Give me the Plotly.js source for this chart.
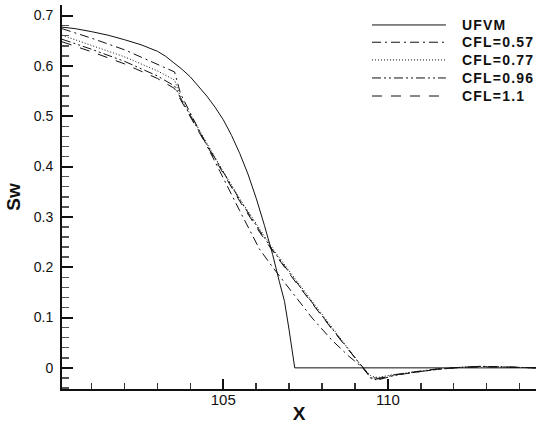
<!DOCTYPE html>
<html>
<head>
<meta charset="utf-8">
<script src="https://cdn.plot.ly/plotly-3.0.1.min.js"></script>
<style>
html,body{margin:0;padding:0;background:#fff;}
#chart{width:536px;height:430px;}
.annotation-text{letter-spacing:1.2px;}
</style>
</head>
<body>
<div id="chart"></div>
<script>
// UFVM reference solution
const xUfvm = [100.1, 100.5, 101, 101.5, 102, 102.5, 103, 103.25, 103.5, 103.75, 104, 104.25, 104.5, 104.75, 105, 105.25, 105.5, 105.75, 106.0, 106.25, 106.5, 106.7, 106.86, 107.0, 107.17, 108, 109, 110, 111, 112, 113, 114, 114.5];
const yUfvm = [0.677, 0.674, 0.668, 0.661, 0.652, 0.642, 0.629, 0.619, 0.606, 0.593, 0.578, 0.560, 0.540, 0.518, 0.493, 0.462, 0.426, 0.385, 0.337, 0.283, 0.225, 0.172, 0.132, 0.075, 0.0, 0, 0, 0, 0, 0, 0, 0, 0];

// shared x grid of the CFL runs
const xCfl = [100.1, 101, 102, 103, 103.52, 103.7, 104.3, 104.9, 105.5, 106.1, 106.5, 107.1, 107.7, 108.3, 108.8, 109.24, 109.5, 109.7, 110.2, 110.8, 111.5, 112.2, 112.8, 113.4, 114.0, 114.5];
const yCfl057 = [0.674, 0.655, 0.632, 0.604, 0.588, 0.545, 0.466, 0.390, 0.312, 0.236, 0.200, 0.150, 0.099, 0.055, 0.024, 0.0, -0.020, -0.022, -0.014, -0.009, -0.003, 0.001, 0.003, 0.002, 0.001, 0.0];
const yCfl077 = [0.661, 0.641, 0.618, 0.590, 0.572, 0.538, 0.468, 0.401, 0.336, 0.276, 0.237, 0.184, 0.132, 0.081, 0.039, 0.0, -0.017, -0.019, -0.013, -0.008, -0.002, 0.001, 0.003, 0.002, 0.001, 0.0];
const yCfl096 = [0.653, 0.633, 0.609, 0.580, 0.560, 0.536, 0.466, 0.399, 0.334, 0.273, 0.234, 0.181, 0.129, 0.078, 0.037, 0.0, -0.022, -0.024, -0.015, -0.009, -0.003, 0.001, 0.003, 0.002, 0.001, 0.0];
const yCfl11 = [0.648, 0.628, 0.604, 0.575, 0.555, 0.533, 0.464, 0.397, 0.331, 0.270, 0.232, 0.179, 0.127, 0.077, 0.036, 0.0, -0.019, -0.021, -0.014, -0.008, -0.002, 0.001, 0.002, 0.002, 0.001, 0.0];

const seriesNames = ['UFVM', 'CFL=0.57', 'CFL=0.77', 'CFL=0.96', 'CFL=1.1'];
const seriesDash = ['solid', '9px,4px,2px,4px', '1px,2px', '9px,3px,2px,3px,2px,3px', '10px,9px'];

const xTickVals = [105, 110];

const xs = [xUfvm, xCfl, xCfl, xCfl, xCfl];
const ys = [yUfvm, yCfl057, yCfl077, yCfl096, yCfl11];

const traces = seriesNames.map((n, i) => ({
  type: 'scatter', mode: 'lines', name: n,
  x: xs[i], y: ys[i],
  line: {color: '#111', width: 1, dash: seriesDash[i]},
  showlegend: false, hoverinfo: 'skip'
}));

// custom legend (long line samples like the original)
const legRows = [0.948, 0.903, 0.857, 0.810, 0.763];
const shapes = seriesNames.map((n, i) => ({
  type: 'line', xref: 'paper', yref: 'paper',
  x0: 0.654, x1: 0.810, y0: legRows[i], y1: legRows[i],
  line: {color: '#111', width: 1, dash: seriesDash[i]}
}));
const annotations = seriesNames.map((n, i) => ({
  xref: 'paper', yref: 'paper', x: 0.840, y: legRows[i],
  xanchor: 'left', yanchor: 'middle', showarrow: false,
  text: n, font: {family: 'Liberation Sans, Arial, sans-serif', size: 14, color: '#111', weight: 'bold'}
}));

const layout = {
  width: 536, height: 430,
  margin: {l: 62, r: 0, t: 5, b: 41},
  paper_bgcolor: '#fff', plot_bgcolor: '#fff',
  font: {family: 'Liberation Sans, Arial, sans-serif', size: 14, color: '#111'},
  showlegend: false,
  xaxis: {
    range: [100.1, 114.5], tickmode: 'array', tickvals: xTickVals,
    ticks: 'inside', ticklen: 10, tickwidth: 2, tickcolor: '#111',
    showline: true, linewidth: 2, linecolor: '#111', mirror: false,
    showgrid: false, zeroline: false,
    tickfont: {size: 15},
    ticklabelstandoff: -4,
    minor: {ticks: 'inside', dtick: 1, tick0: 100, ticklen: 6, tickwidth: 1.5, tickcolor: '#333', showgrid: false},
    title: {text: 'X', font: {size: 19, weight: 'bold'}, standoff: 0}
  },
  yaxis: {
    range: [-0.042, 0.721], tick0: 0, dtick: 0.1,
    ticks: 'inside', ticklen: 11, tickwidth: 2, tickcolor: '#111',
    showline: true, linewidth: 2, linecolor: '#111', mirror: false,
    showgrid: false, zeroline: false,
    tickfont: {size: 14},
    ticklabelstandoff: 4,
    minor: {ticks: 'inside', dtick: 0.02, tick0: 0, ticklen: 7, tickwidth: 1.5, tickcolor: '#555', showgrid: false},
    title: {text: 'Sw', font: {size: 19, weight: 'bold'}, standoff: 8}
  },
  shapes: shapes,
  annotations: annotations
};

Plotly.newPlot('chart', traces, layout, {displayModeBar: false, staticPlot: true});
</script>
</body>
</html>
